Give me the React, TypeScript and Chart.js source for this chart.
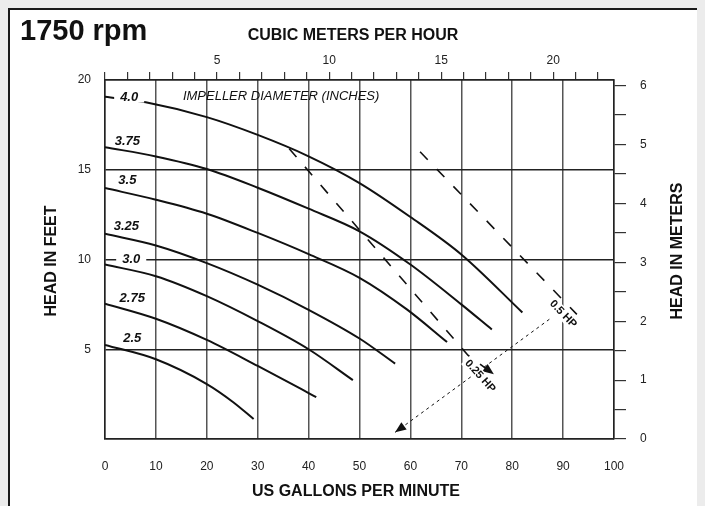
import React, { useEffect, useRef } from "react";
import { Chart, registerables } from "chart.js";

Chart.register(...registerables);

const FONT = "'Liberation Sans', Arial, Helvetica, sans-serif";

// Unit conversions for the secondary axes
const GPM_TO_M3H = 0.2271;
const FT_TO_M = 0.3048;

// Axis ranges / tick labels
const GPM_MAX = 100;
const FEET_MAX = 20;
const M3H_LABELS = [5, 10, 15, 20];
const METER_LABELS = [0, 1, 2, 3, 4, 5, 6];

// Impeller curves (x = US GPM, y = head in feet)
const curve40X = [0, 8, 20, 30, 40, 50, 60, 70, 82];
const curve40Y = [19.07, 18.76, 17.93, 16.94, 15.75, 14.26, 12.37, 10.28, 7.05];
const curve375X = [0, 10, 20, 30, 40, 50, 60, 70, 76];
const curve375Y = [16.26, 15.74, 15.04, 14.0, 12.83, 11.57, 9.72, 7.5, 6.1];
const curve35X = [0, 10, 20, 30, 40, 50, 59.3, 67.2];
const curve35Y = [13.98, 13.33, 12.55, 11.48, 10.3, 8.98, 7.22, 5.4];
const curve325X = [0, 10, 20, 30, 40, 50, 57];
const curve325Y = [11.43, 10.78, 9.8, 8.6, 7.2, 5.6, 4.2];
const curve30X = [0, 10, 20, 30, 40, 48.7];
const curve30Y = [9.72, 9.07, 7.96, 6.57, 5.0, 3.28];
const curve275X = [0, 10, 20, 30, 40, 41.5];
const curve275Y = [7.54, 6.7, 5.52, 4.07, 2.56, 2.33];
const curve25X = [0, 10, 20, 25.2, 29.2];
const curve25Y = [5.24, 4.44, 3.06, 2.05, 1.11];

// Curve labels (impeller diameter, inches)
const curveLabels = ["4.0", "3.75", "3.5", "3.25", "3.0", "2.75", "2.5"];
const curveLabelX = [4.75, 4.4, 4.4, 4.2, 5.15, 5.35, 5.35];
const curveLabelY = [19.05, 16.6, 14.43, 11.87, 10.0, 7.85, 5.63];
const curveLabelMasked = [true, false, false, false, true, false, false];

// Horsepower lines
const hp025X = [36.2, 71.3, 76.4];
const hp025Y = [16.17, 4.67, 3.61];
const hp05X = [61.9, 92.7];
const hp05Y = [16.0, 6.94];
const leaderX = [87.3, 57.0];
const leaderY = [6.67, 0.37];

const hpLabels = ["0.25 HP", "0.5 HP"];
const hpLabelX = [73.7, 90.0];
const hpLabelY = [3.5, 6.96];
const hpLabelAngle = [48, 46];

const impellerTitle = "IMPELLER DIAMETER (INCHES)";
const impellerX = 34.6;
const impellerY = 19.1;

const toPts = (xs: number[], ys: number[]) => xs.map((x, i) => ({ x, y: ys[i] }));

const curves = [
  [curve40X, curve40Y],
  [curve375X, curve375Y],
  [curve35X, curve35Y],
  [curve325X, curve325Y],
  [curve30X, curve30Y],
  [curve275X, curve275Y],
  [curve25X, curve25Y],
];

function arrowHead(ctx: CanvasRenderingContext2D, x1: number, y1: number, x2: number, y2: number, len = 11, half = 4.5) {
  const a = Math.atan2(y2 - y1, x2 - x1);
  ctx.save();
  ctx.translate(x2, y2);
  ctx.rotate(a);
  ctx.beginPath();
  ctx.moveTo(0, 0);
  ctx.lineTo(-len, -half);
  ctx.lineTo(-len, half);
  ctx.closePath();
  ctx.fillStyle = "#111";
  ctx.fill();
  ctx.restore();
}

const annotPlugin = {
  id: "annot",
  afterDatasetsDraw(chart: any) {
    const ctx: CanvasRenderingContext2D = chart.ctx;
    const xs = chart.scales.x;
    const ys = chart.scales.y;
    ctx.save();
    ctx.textAlign = "center";
    ctx.textBaseline = "middle";

    // curve labels
    ctx.font = `italic bold 13px ${FONT}`;
    curveLabels.forEach((t, i) => {
      const px = xs.getPixelForValue(curveLabelX[i]);
      const py = ys.getPixelForValue(curveLabelY[i]);
      if (curveLabelMasked[i]) {
        const w = ctx.measureText(t).width;
        ctx.fillStyle = "#fff";
        ctx.fillRect(px - w / 2 - 6, py - 5.5, w + 12, 11);
      }
      ctx.fillStyle = "#111";
      ctx.fillText(t, px, py);
    });

    // impeller title
    ctx.font = `italic 13px ${FONT}`;
    ctx.fillStyle = "#111";
    ctx.fillText(impellerTitle, xs.getPixelForValue(impellerX), ys.getPixelForValue(impellerY));

    // arrowheads
    const n = hp025X.length;
    arrowHead(
      ctx,
      xs.getPixelForValue(hp025X[n - 2]),
      ys.getPixelForValue(hp025Y[n - 2]),
      xs.getPixelForValue(hp025X[n - 1]),
      ys.getPixelForValue(hp025Y[n - 1])
    );
    arrowHead(
      ctx,
      xs.getPixelForValue(leaderX[0]),
      ys.getPixelForValue(leaderY[0]),
      xs.getPixelForValue(leaderX[1]),
      ys.getPixelForValue(leaderY[1])
    );

    // HP labels
    ctx.font = `bold 11px ${FONT}`;
    hpLabels.forEach((t, i) => {
      const px = xs.getPixelForValue(hpLabelX[i]);
      const py = ys.getPixelForValue(hpLabelY[i]);
      ctx.save();
      ctx.translate(px, py);
      ctx.rotate((hpLabelAngle[i] * Math.PI) / 180);
      const w = ctx.measureText(t).width;
      ctx.fillStyle = "#fff";
      ctx.fillRect(-w / 2 - 2, -6, w + 4, 12);
      ctx.fillStyle = "#111";
      ctx.fillText(t, 0, 0);
      ctx.restore();
    });
    ctx.restore();
  },
  afterDraw(chart: any) {
    const ctx: CanvasRenderingContext2D = chart.ctx;
    ctx.save();
    ctx.fillStyle = "#111";
    ctx.textBaseline = "middle";
    ctx.textAlign = "left";
    ctx.font = `bold 29px ${FONT}`;
    ctx.fillText("1750 rpm", 10, 22);

    ctx.textAlign = "center";
    ctx.font = `bold 16px ${FONT}`;
    ctx.fillText("CUBIC METERS PER HOUR", 343, 26);
    ctx.fillText("US GALLONS PER MINUTE", 346, 482);

    ctx.save();
    ctx.translate(42, 251);
    ctx.rotate(-Math.PI / 2);
    ctx.fillText("HEAD IN FEET", 0, 0);
    ctx.restore();

    ctx.save();
    ctx.translate(668, 241);
    ctx.rotate(-Math.PI / 2);
    ctx.fillText("HEAD IN METERS", 0, 0);
    ctx.restore();
    ctx.restore();
  },
};

export default function App() {
  const ref = useRef<HTMLCanvasElement | null>(null);

  useEffect(() => {
    document.body.style.background = "#ececec";
    if (!ref.current) return;
    const tickFont = { family: FONT, size: 12 };
    const datasets: any[] = curves.map(([cx, cy]) => ({
      data: toPts(cx, cy),
      borderColor: "#111",
      borderWidth: 2,
      pointRadius: 0,
      fill: false,
      cubicInterpolationMode: "monotone",
      xAxisID: "x",
      yAxisID: "y",
    }));
    datasets.push({
      data: toPts(hp025X, hp025Y),
      borderColor: "#111",
      borderWidth: 1.6,
      borderDash: [11, 13],
      pointRadius: 0,
      fill: false,
      xAxisID: "x",
      yAxisID: "y",
    });
    datasets.push({
      data: toPts(hp05X, hp05Y),
      borderColor: "#111",
      borderWidth: 1.6,
      borderDash: [11, 13],
      pointRadius: 0,
      fill: false,
      xAxisID: "x",
      yAxisID: "y",
    });
    datasets.push({
      data: toPts(leaderX, leaderY),
      borderColor: "#111",
      borderWidth: 1,
      borderDash: [3, 3.5],
      pointRadius: 0,
      fill: false,
      xAxisID: "x",
      yAxisID: "y",
    });

    const chart = new Chart(ref.current, {
      type: "line",
      data: { datasets },
      options: {
        animation: false,
        responsive: false,
        events: [],
        layout: { padding: 0 },
        plugins: { legend: { display: false }, tooltip: { enabled: false }, title: { display: false } },
        scales: {
          x: {
            type: "linear",
            position: "bottom",
            min: 0,
            max: GPM_MAX,
            ticks: { stepSize: 10, padding: 20, color: "#222", font: tickFont, autoSkip: false, maxRotation: 0 },
            grid: { color: "#555", lineWidth: 1.5, drawTicks: false },
            border: { display: true, color: "#222", width: 1.5 },
            afterFit: (s: any) => {
              s.height = 65;
            },
          },
          x2: {
            type: "linear",
            position: "top",
            min: 0,
            max: GPM_MAX * GPM_TO_M3H,
            ticks: {
              stepSize: 1,
              includeBounds: false,
              autoSkip: false,
              maxRotation: 0,
              padding: 4,
              color: "#222",
              font: tickFont,
              callback: (v: any) => (M3H_LABELS.includes(Number(v)) ? String(v) : ""),
            },
            grid: { drawOnChartArea: false, drawTicks: true, tickLength: 8, color: "#333", lineWidth: 1.2 },
            border: { display: true, color: "#222", width: 1.5 },
            afterFit: (s: any) => {
              s.height = 70;
            },
          },
          y: {
            type: "linear",
            position: "left",
            min: 0,
            max: FEET_MAX,
            ticks: {
              stepSize: 5,
              padding: 14,
              color: "#222",
              font: tickFont,
              callback: (v: any) => (Number(v) === 0 ? "" : String(v)),
            },
            grid: { color: "#222", lineWidth: 1.4, drawTicks: false },
            border: { display: true, color: "#222", width: 1.5 },
            afterFit: (s: any) => {
              s.width = 95;
            },
          },
          y2: {
            type: "linear",
            position: "right",
            min: 0,
            max: FEET_MAX * FT_TO_M,
            ticks: {
              stepSize: 0.5,
              includeBounds: false,
              padding: 14,
              color: "#222",
              font: tickFont,
              callback: (v: any) => (METER_LABELS.includes(Number(v)) ? String(v) : ""),
            },
            grid: { drawOnChartArea: false, drawTicks: true, tickLength: 12, color: "#333", lineWidth: 1.2 },
            border: { display: true, color: "#222", width: 1.5 },
            afterFit: (s: any) => {
              s.width = 83;
            },
          },
        },
      } as any,
      plugins: [annotPlugin],
    });
    return () => chart.destroy();
  }, []);

  return (
    <div
      style={{
        position: "relative",
        width: 691,
        height: 500,
        border: "2px solid #1a1a1a",
        boxSizing: "border-box",
        background: "#fff",
      }}
    >
      <canvas ref={ref} width={687} height={494} style={{ display: "block", width: 687, height: 494 }} />
    </div>
  );
}
